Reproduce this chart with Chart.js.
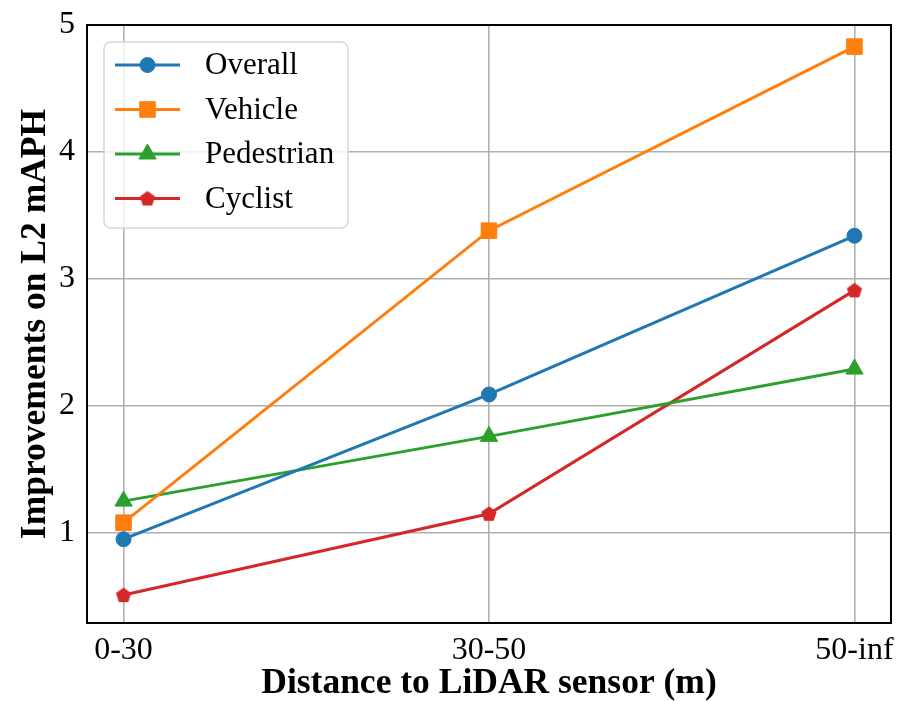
<!DOCTYPE html>
<html>
<head>
<meta charset="utf-8">
<script src="https://cdn.jsdelivr.net/npm/chart.js@4.4.1/dist/chart.umd.min.js"></script>
<style>
  html, body { margin: 0; padding: 0; background: #fff; }
  #wrap { width: 904px; height: 701px; }
</style>
</head>
<body>
<div id="wrap"><canvas id="lidarChart" width="904" height="701"></canvas></div>
<script>
// distance bins on the x axis
var distanceBins = ['0-30', '30-50', '50-inf'];
// improvements on L2 mAPH per class
var overallVals = [0.95, 2.09, 3.34];
var vehicleVals = [1.08, 3.38, 4.83];
var pedestrianVals = [1.25, 1.76, 2.29];
var cyclistVals = [0.51, 1.15, 2.91];
var yTicks = [1, 2, 3, 4, 5];

var serif = "'Liberation Serif', 'Times New Roman', serif";

// matplotlib-like pentagon marker
function pentagon(color, r) {
    var c = document.createElement('canvas');
    var s = Math.ceil(r * 2 + 2);
    c.width = s; c.height = s;
    var g = c.getContext('2d');
    g.beginPath();
    for (var i = 0; i < 5; i++) {
        var a = -Math.PI / 2 + i * 2 * Math.PI / 5;
        var px = s / 2 + r * Math.cos(a), py = s / 2 + r * Math.sin(a) + 0.5;
        if (i === 0) g.moveTo(px, py); else g.lineTo(px, py);
    }
    g.closePath();
    g.fillStyle = color;
    g.fill();
    return c;
}

function toPoints(vals) {
    return vals.map(function (v, i) { return { x: i, y: v }; });
}

var frame = {
    id: 'frame',
    afterDatasetsDraw: function (chart) {
        var a = chart.chartArea, ctx = chart.ctx;
        ctx.save();
        ctx.strokeStyle = '#000';
        ctx.lineWidth = 2;
        ctx.strokeRect(a.left, a.top, a.right - a.left, a.bottom - a.top);
        ctx.restore();
    }
};

var boxLegend = {
    id: 'boxLegend',
    afterDraw: function (chart) {
        var ctx = chart.ctx;
        var x0 = 104, y0 = 42, w = 244, h = 186, r = 7;
        ctx.save();
        ctx.beginPath();
        ctx.roundRect(x0, y0, w, h, r);
        ctx.fillStyle = 'rgba(255,255,255,0.8)';
        ctx.fill();
        ctx.strokeStyle = '#d6d6d6';
        ctx.lineWidth = 1.5;
        ctx.stroke();
        chart.data.datasets.forEach(function (ds, i) {
            var y = 65 + i * 44.5;
            ctx.beginPath();
            ctx.moveTo(115, y);
            ctx.lineTo(180, y);
            ctx.strokeStyle = ds.borderColor;
            ctx.lineWidth = ds.borderWidth;
            ctx.stroke();
            ctx.fillStyle = ds.backgroundColor;
            ctx.strokeStyle = ds.borderColor;
            ctx.lineWidth = 1;
            Chart.helpers.drawPoint(ctx, { pointStyle: ds.pointStyle, radius: ds.pointRadius, borderWidth: 1, rotation: 0 }, 147.5, y);
            ctx.fillStyle = '#000';
            ctx.font = '31px ' + serif;
            ctx.textBaseline = 'middle';
            ctx.textAlign = 'left';
            ctx.fillText(ds.label, 205, y + 1);
        });
        ctx.restore();
    }
};

function series(label, vals, color, style, radius) {
    return {
        label: label,
        data: toPoints(vals),
        borderColor: color,
        backgroundColor: color,
        borderWidth: 3,
        pointStyle: style,
        pointRadius: radius,
        pointBorderWidth: 1,
        tension: 0
    };
}

new Chart(document.getElementById('lidarChart'), {
    type: 'line',
    data: {
        datasets: [
            series('Overall', overallVals, '#1f77b4', 'circle', 7.5),
            series('Vehicle', vehicleVals, '#ff7f0e', 'rect', 11),
            series('Pedestrian', pedestrianVals, '#2ca02c', 'triangle', 10),
            series('Cyclist', cyclistVals, '#d62728', pentagon('#d62728', 8), 8)
        ]
    },
    options: {
        responsive: false,
        animation: false,
        events: [],
        layout: { padding: { top: 25, right: 13, left: 0, bottom: 0 } },
        plugins: { legend: { display: false }, tooltip: { enabled: false } },
        scales: {
            x: {
                type: 'linear',
                min: -0.1,
                max: 2.1,
                afterBuildTicks: function (scale) {
                    scale.ticks = distanceBins.map(function (b, i) { return { value: i }; });
                },
                afterFit: function (scale) {
                    scale.height = 78;
                    scale.paddingLeft = 0;
                    scale.paddingRight = 0;
                },
                grid: { color: '#b0b0b0', lineWidth: 1.6, drawTicks: false },
                border: { display: false },
                ticks: {
                    padding: 8,
                    color: '#000',
                    font: { family: serif, size: 32 },
                    callback: function (v) { return distanceBins[v]; }
                },
                title: {
                    display: true,
                    text: 'Distance to LiDAR sensor (m)',
                    color: '#000',
                    font: { family: serif, size: 35.5, weight: 'bold' },
                    padding: { top: 0, bottom: -4 }
                }
            },
            y: {
                min: 0.29,
                max: 5.0,
                afterBuildTicks: function (scale) {
                    scale.ticks = yTicks.map(function (v) { return { value: v }; });
                },
                afterFit: function (scale) {
                    scale.width = 87;
                    scale.paddingTop = 0;
                    scale.paddingBottom = 0;
                },
                grid: { color: '#b0b0b0', lineWidth: 1.6, drawTicks: false },
                border: { display: false },
                ticks: {
                    padding: 12,
                    color: '#000',
                    font: { family: serif, size: 32 }
                },
                title: {
                    display: true,
                    text: 'Improvements on L2 mAPH',
                    color: '#000',
                    font: { family: serif, size: 35.5, weight: 'bold' },
                    padding: { top: 15, bottom: 0 }
                }
            }
        }
    },
    plugins: [frame, boxLegend]
});
</script>
</body>
</html>
